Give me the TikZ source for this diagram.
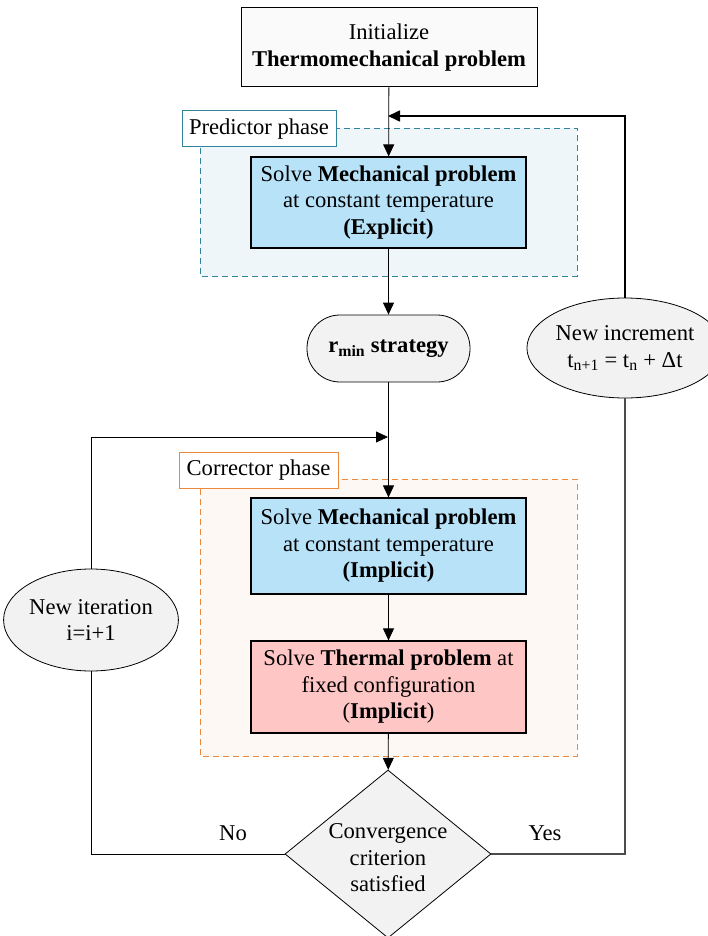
\documentclass[tikz,border=0pt]{standalone}
\usepackage{fontspec}
\setmainfont{Liberation Serif}
\usetikzlibrary{shapes.geometric,arrows.meta}
\definecolor{predline}{HTML}{31849B}
\definecolor{predfill}{HTML}{EEF6FA}
\definecolor{corrline}{HTML}{EB8A3E}
\definecolor{corrfill}{HTML}{FDF8F4}
\definecolor{mechfill}{HTML}{B7E2F8}
\definecolor{thermfill}{HTML}{FFC6C6}
\definecolor{termfill}{HTML}{F2F2F2}
\begin{document}
\begin{tikzpicture}[x=1pt,y=-1pt,>={Triangle[length=12pt,width=11pt]},
  font=\fontsize{22.6}{26.5}\selectfont,
  every node/.style={align=center,inner sep=0pt},
  solvebox/.style={draw,line width=1.2pt,minimum width=275pt},
  phaselabel/.style={draw,line width=1pt,fill=white,minimum width=154pt,minimum height=36pt},
  zone/.style={dashed,line width=0.9pt,dash pattern=on 6pt off 4pt},
  flow/.style={line width=0.8pt}]
\useasboundingbox (0,0) rectangle (708,936);
% phase zones
\draw[zone,draw=predline,fill=predfill] (200,128) rectangle (577,276);
\draw[zone,draw=corrline,fill=corrfill] (200,479) rectangle (577,756);
\node[phaselabel,draw=predline] (predlab) at (259,129) {Predictor phase};
\node[phaselabel,draw=corrline,minimum width=159pt] (corrlab) at (258.5,470) {Corrector phase};
% blocks
\node[draw,line width=1pt,fill=gray!4,minimum width=296pt,minimum height=79pt] (init) at (389,47.5)
  {Initialize\\\textbf{Thermomechanical problem}};
\node[solvebox,fill=mechfill,minimum height=91pt] (mechexp) at (388.5,202.5)
  {Solve \textbf{Mechanical problem}\\at constant temperature\\\textbf{(Explicit)}};
\node[draw,line width=0.8pt,fill=termfill,rounded corners=33pt,minimum width=163pt,minimum height=67pt] (rmin) at (388.5,348.5)
  {\textbf{r\textsubscript{min} strategy}};
\node[draw,ellipse,line width=0.8pt,fill=termfill,minimum width=166pt,minimum height=100pt] (newinc) at (625,348)
  {New increment\\t\textsubscript{n+1} = t\textsubscript{n} + Δt};
\node[solvebox,fill=mechfill,minimum height=96pt] (mechimp) at (388.5,546)
  {Solve \textbf{Mechanical problem}\\at constant temperature\\\textbf{(Implicit)}};
\node[solvebox,fill=thermfill,minimum height=92pt] (therm) at (388.5,687)
  {Solve \textbf{Thermal problem} at\\fixed configuration\\(\textbf{Implicit})};
\node[draw,ellipse,line width=0.8pt,fill=termfill,minimum width=163pt,minimum height=102pt] (newit) at (91,620)
  {New iteration\\i=i+1};
\node[draw,diamond,line width=0.8pt,fill=termfill,minimum width=206pt,minimum height=168pt] (conv) at (388,854) {};
\node (convtext) at (388,858) {Convergence\\criterion\\satisfied};
% connectors
\coordinate (join) at (388,437);
\coordinate (back) at (388,116);
\draw[flow,->] (init) -- (mechexp);
\draw[flow,->] (mechexp) -- (rmin);
\draw[flow,->] (rmin) -- (mechimp);
\draw[flow,->] (newit.north) |- (join);
\draw[flow,->] (mechimp) -- (therm);
\draw[flow,->] (therm) -- (conv);
\draw[flow] (conv.west) -| (newit.south);
\draw[line width=1.3pt,black!70] (conv.east) -| (newinc.south);
\draw[line width=1.6pt,->] (newinc.north) |- (back);
\node (no) at (233,833) {No};
\node (yes) at (545,833) {Yes};
\end{tikzpicture}
\end{document}
